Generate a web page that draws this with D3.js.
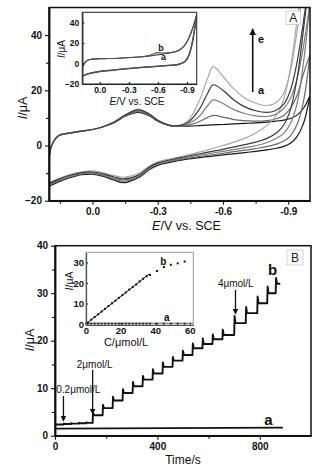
<!DOCTYPE html>
<html>
<head>
<meta charset="utf-8">
<script src="https://cdn.jsdelivr.net/npm/d3@7"></script>
<style>
body { margin: 0; background: #fff; }
svg { display: block; font-family: "Liberation Sans", Arial, sans-serif; }
.tick text { font-weight: bold; fill: #111; }
.tick line { stroke: #111; }
.domain { stroke: #111; }
</style>
</head>
<body>
<svg id="chart" width="328" height="471"></svg>
<script>
// ---- panel A: cyclic voltammograms a..e ----
const fwdE = [0.2, 0.19, 0.17, 0.15, 0.1, 0.05, 0.0, -0.05, -0.1, -0.15, -0.21, -0.26, -0.3, -0.35, -0.4, -0.44, -0.49, -0.53, -0.555, -0.6, -0.65, -0.7, -0.75, -0.8, -0.84, -0.88, -0.91, -0.94, -0.97, -1.0];
const fwdA = [-5, -0.5, 2.5, 3.8, 4.6, 5.2, 5.8, 6.8, 8.3, 10.6, 12.0, 10.8, 8.8, 7.3, 7.0, 7.0, 7.2, 7.4, 7.5, 7.6, 7.8, 8.0, 8.2, 8.5, 8.8, 9.2, 9.8, 11, 13.5, 18];
const fwdB = [-5, -0.5, 2.5, 3.8, 4.6, 5.2, 5.8, 6.8, 8.4, 10.8, 12.3, 11.0, 8.9, 7.3, 7.0, 7.3, 8.6, 10.2, 10.9, 10.3, 9.4, 9.0, 8.8, 9.0, 9.6, 11, 13.5, 18, 26, 33];
const fwdC = [-5, -0.5, 2.5, 3.8, 4.6, 5.2, 5.8, 6.8, 8.4, 10.9, 12.6, 11.2, 9.0, 7.4, 7.1, 7.8, 10.5, 14.5, 16.5, 15.2, 13.0, 11.6, 10.7, 10.5, 11.2, 13.5, 17, 24, 36, 52];
const fwdD = [-5, -0.5, 2.5, 3.8, 4.6, 5.2, 5.8, 6.9, 8.5, 11.0, 12.9, 11.4, 9.1, 7.4, 7.2, 8.4, 13.0, 19.0, 22.0, 20.0, 16.5, 14.0, 12.6, 12.0, 12.6, 15, 20, 30, 45, 62];
const fwdEe = [-5, -0.5, 2.5, 3.8, 4.6, 5.2, 5.8, 6.9, 8.6, 11.1, 13.2, 11.6, 9.2, 7.5, 7.3, 9.0, 16.0, 24.5, 28.6, 25.0, 20.5, 17.2, 15.3, 14.5, 15.3, 19, 27, 41, 57, 70];

const revE = [-1.0, -0.97, -0.94, -0.91, -0.88, -0.85, -0.8, -0.75, -0.7, -0.6, -0.5, -0.4, -0.3, -0.26, -0.22, -0.17, -0.14, -0.1, -0.05, 0.0, 0.05, 0.1, 0.15, 0.2];
const revA = [18, 8, 3.2, 0.8, -0.3, -0.9, -1.6, -2.1, -2.6, -3.4, -4.3, -5.4, -7.2, -8.8, -11.2, -13.0, -13.5, -12.6, -11.2, -10.4, -10.6, -11.6, -13.0, -14.8];
const revB = [33, 16, 7.5, 3.5, 1.6, 0.6, -0.4, -1.1, -1.7, -2.8, -3.9, -5.1, -6.9, -8.5, -10.9, -12.6, -13.0, -12.2, -10.9, -10.1, -10.3, -11.3, -12.7, -14.4];
const revC = [52, 30, 15, 8, 4.5, 2.8, 1.0, -0.1, -0.8, -2.1, -3.4, -4.8, -6.6, -8.2, -10.6, -12.2, -12.5, -11.8, -10.6, -9.9, -10.1, -11.0, -12.4, -14.1];
const revD = [62, 42, 24, 13, 7.5, 4.8, 2.5, 1.2, 0.3, -1.4, -2.9, -4.5, -6.3, -7.9, -10.3, -11.8, -12.1, -11.4, -10.3, -9.6, -9.8, -10.7, -12.1, -13.8];
const revEe = [70, 60, 45, 28, 17, 11.5, 7.2, 4.5, 2.6, 0.0, -2.2, -4.1, -5.9, -7.5, -9.8, -11.2, -11.5, -10.9, -9.9, -9.2, -9.5, -10.4, -11.8, -13.5];

const cvNames = ['a', 'b', 'c', 'd', 'e'];
const cvColors = ['#161616', '#6a6a6a', '#7e7e7e', '#3a3a3a', '#a8a8a8'];

// inset of panel A
const inFwdE = [0.18, 0.16, 0.13, 0.1, 0.0, -0.2, -0.4, -0.5, -0.56, -0.6, -0.65, -0.7, -0.76, -0.82, -0.87, -0.91, -0.95, -1.0];
const inFwdA = [-4, 0, 3, 4, 4.6, 5.2, 6.3, 7.2, 7.9, 8.6, 9.2, 10, 11, 13, 17, 23, 32, 47];
const inFwdB = [-4, 0, 3, 4, 4.6, 5.2, 6.3, 7.6, 9.6, 10.6, 10.3, 10.4, 11.2, 13.2, 17.2, 23.2, 32.5, 48];
const inRevE = [-1.0, -0.97, -0.94, -0.91, -0.88, -0.85, -0.8, -0.7, -0.6, -0.45, -0.3, -0.15, 0.0, 0.1, 0.18];
const inRevA = [47, 28, 14, 6, 2, 0.3, -1.2, -2.0, -2.7, -3.8, -5.0, -6.4, -7.8, -9.6, -12.4];
const inRevB = [48, 29, 14.5, 6.3, 2.2, 0.5, -1.0, -1.8, -2.5, -3.6, -4.8, -6.2, -7.6, -9.4, -12.2];

const cvTicks = [0, -0.3, -0.6, -0.9];
const cvMinor = [0.15, -0.15, -0.45, -0.75];

// ---- panel B: amperometric response ----
const stepT = [33, 62, 92, 121, 147, 186, 225, 264, 303, 342, 381, 420, 459, 498, 537, 576, 615, 654, 700, 745, 790, 829, 862];
const stepI = [2.45, 2.55, 2.62, 2.7, 4.3, 5.8, 7.4, 9.0, 10.4, 11.8, 13.1, 14.5, 15.8, 17.0, 18.4, 19.3, 20.3, 21.2, 23.7, 25.8, 27.9, 30.0, 32.0];
const stepSpike = [0.1, 0.1, 0.1, 0.1, 0.6, 0.7, 0.8, 0.8, 0.9, 0.8, 0.9, 0.9, 0.8, 0.9, 1.0, 1.2, 1.0, 1.1, 1.5, 1.3, 1.4, 1.4, 1.2];
const traceBStart = [0, 2.35];
const traceBEnd = 880;
const traceA = [[0, 1.5], [890, 1.7]];

// inset of panel B: calibration
const calBC = [0.2, 0.4, 0.6, 0.8, 1.0, 3, 5, 7, 9, 11, 13, 15, 17, 19, 21, 23, 25, 27, 29, 31, 33, 35, 37, 41, 45, 49, 53, 57];
const calBI = [0.15, 0.3, 0.4, 0.55, 0.7, 2.1, 3.4, 4.7, 6.1, 7.4, 8.8, 10.1, 11.4, 12.8, 14.1, 15.4, 16.8, 18.1, 19.3, 20.8, 22.1, 23.3, 23.9, 25.9, 27.8, 28.9, 29.6, 30.5];
const calAC = [0.2, 0.6, 1.0, 3, 5, 7, 9, 11, 13, 15, 17, 19, 21, 23, 25, 27, 29, 31, 33, 35, 37, 41, 45, 49, 53, 57];
const calAI = [0.1, 0.1, 0.1, 0.1, 0.1, 0.1, 0.1, 0.1, 0.1, 0.1, 0.1, 0.1, 0.1, 0.1, 0.1, 0.1, 0.1, 0.1, 0.1, 0.1, 0.1, 0.1, 0.1, 0.1, 0.1, 0.1];
const fitC = [0, 36.5];
const fitI = [0, 24.4];
const calALineC = [0, 62];
const calALineI = [0.35, 0.35];

const svg = d3.select('#chart');
const defs = svg.append('defs');
defs.append('marker')
  .attr('id', 'head')
  .attr('viewBox', '0 0 10 10')
  .attr('refX', 9).attr('refY', 5)
  .attr('markerWidth', 4.5).attr('markerHeight', 4.5)
  .attr('orient', 'auto-start-reverse')
  .append('path').attr('d', 'M0,0L10,5L0,10Z').attr('fill', '#111');

function clip(id, x0, y0, w, h) {
  defs.append('clipPath').attr('id', id)
    .append('rect').attr('x', x0).attr('y', y0).attr('width', w).attr('height', h);
  return 'url(#' + id + ')';
}

function styleAxis(g, domainW, fontSize) {
  g.select('.domain').attr('stroke-width', domainW);
  g.selectAll('.tick line').attr('stroke-width', 1.1);
  g.selectAll('.tick text').attr('font-size', fontSize);
}

function frame(x, y, color, w) {
  svg.append('rect')
    .attr('x', x.range()[0]).attr('y', y.range()[1])
    .attr('width', x.range()[1] - x.range()[0])
    .attr('height', y.range()[0] - y.range()[1])
    .attr('fill', 'none').attr('stroke', color).attr('stroke-width', w);
}

function titleText(x, y, parts, size, rotate) {
  const t = svg.append('text')
    .attr('text-anchor', 'middle')
    .attr('font-size', size)
    .attr('fill', '#111')
    .attr('transform', 'translate(' + x + ',' + y + ')' + (rotate ? ' rotate(-90)' : ''))
    .attr('dy', '0.35em');
  parts.forEach((p) => {
    t.append('tspan').attr('font-style', p[1] ? 'italic' : 'normal').text(p[0]);
  });
  return t;
}

const fmt1 = (d) => d.toFixed(1);

// ================= Panel A =================
const xA = d3.scaleLinear().domain([0.2, -1.0]).range([49, 310]);
const yA = d3.scaleLinear().domain([-20, 50]).range([200.7, 7.5]);
const clipA = clip('clipA', 49, 7.5, 261, 193.2);

const cvLine = d3.line().x((d) => xA(d[0])).y((d) => yA(d[1])).curve(d3.curveCatmullRom.alpha(0.5));
const fwdSets = [fwdA, fwdB, fwdC, fwdD, fwdEe];
const revSets = [revA, revB, revC, revD, revEe];
const gCv = svg.append('g').attr('clip-path', clipA);
[0, 1, 2, 4, 3].forEach((k) => {
  gCv.append('path')
    .datum(fwdE.map((e, i) => [e, fwdSets[k][i]]))
    .attr('class', 'cv cv-' + cvNames[k])
    .attr('fill', 'none').attr('stroke', cvColors[k]).attr('stroke-width', 1.2)
    .attr('d', cvLine);
  gCv.append('path')
    .datum(revE.map((e, i) => [e, revSets[k][i]]))
    .attr('class', 'cv cv-' + cvNames[k])
    .attr('fill', 'none').attr('stroke', cvColors[k]).attr('stroke-width', 1.2)
    .attr('d', cvLine);
});

let ax = svg.append('g').attr('transform', 'translate(0,200.7)')
  .call(d3.axisBottom(xA).tickValues(cvTicks).tickFormat(fmt1).tickSize(4).tickPadding(3).tickSizeOuter(0));
styleAxis(ax, 1.5, 10);
ax = svg.append('g').attr('transform', 'translate(0,200.7)')
  .call(d3.axisBottom(xA).tickValues(cvMinor).tickFormat('').tickSize(3).tickSizeOuter(0));
styleAxis(ax, 1.5, 10);
ax = svg.append('g').attr('transform', 'translate(49,0)')
  .call(d3.axisLeft(yA).tickValues([-20, 0, 20, 40]).tickSize(4).tickPadding(3).tickSizeOuter(0));
styleAxis(ax, 1.5, 10);
ax = svg.append('g').attr('transform', 'translate(49,0)')
  .call(d3.axisLeft(yA).tickValues([-10, 10, 30]).tickFormat('').tickSize(3).tickSizeOuter(0));
styleAxis(ax, 1.5, 10);
frame(xA, yA, '#111', 1.5);

titleText(22.5, 108, [['I', true], ['/μA', false]], 12.5, true);
titleText(186.5, 226, [['E', true], ['/V vs. SCE', false]], 12.5, false);

// panel label A
svg.append('rect').attr('x', 286).attr('y', 11).attr('width', 14.5).attr('height', 13.5)
  .attr('fill', '#fff').attr('stroke', '#c8c8c8').attr('stroke-width', 0.8);
svg.append('text').attr('x', 293.3).attr('y', 17.8).attr('dy', '0.35em')
  .attr('text-anchor', 'middle').attr('font-size', 12).attr('fill', '#222').text('A');

// arrow a -> e
svg.append('line').attr('x1', 252.7).attr('y1', 92).attr('x2', 252.7).attr('y2', 29)
  .attr('stroke', '#111').attr('stroke-width', 1.6).attr('marker-end', 'url(#head)');
svg.append('text').attr('x', 258).attr('y', 39).attr('dy', '0.35em')
  .attr('font-size', 11).attr('font-weight', 'bold').attr('fill', '#111').text('e');
svg.append('text').attr('x', 258).attr('y', 90.5).attr('dy', '0.35em')
  .attr('font-size', 11).attr('font-weight', 'bold').attr('fill', '#111').text('a');

// ---- inset A ----
const xIA = d3.scaleLinear().domain([0.18, -1.0]).range([82.3, 196.7]);
const yIA = d3.scaleLinear().domain([-20, 50]).range([84, 12.3]);
svg.append('rect').attr('x', 82.3).attr('y', 12.3).attr('width', 114.4).attr('height', 71.7).attr('fill', '#fff');
const clipIA = clip('clipIA', 82.3, 12.3, 114.4, 71.7);
const inLine = d3.line().x((d) => xIA(d[0])).y((d) => yIA(d[1])).curve(d3.curveCatmullRom.alpha(0.5));
const gIA = svg.append('g').attr('clip-path', clipIA);
[[inFwdA, inRevA, '#333'], [inFwdB, inRevB, '#555']].forEach((s) => {
  gIA.append('path').datum(inFwdE.map((e, i) => [e, s[0][i]]))
    .attr('fill', 'none').attr('stroke', s[2]).attr('stroke-width', 1.1).attr('d', inLine);
  gIA.append('path').datum(inRevE.map((e, i) => [e, s[1][i]]))
    .attr('fill', 'none').attr('stroke', s[2]).attr('stroke-width', 1.3).attr('d', inLine);
});
ax = svg.append('g').attr('transform', 'translate(0,84)')
  .call(d3.axisBottom(xIA).tickValues(cvTicks).tickFormat(fmt1).tickSize(-2).tickPadding(3).tickSizeOuter(0));
styleAxis(ax, 1.2, 8.5);
ax = svg.append('g').attr('transform', 'translate(82.3,0)')
  .call(d3.axisLeft(yIA).tickValues([-20, 0, 20, 40]).tickSize(-2).tickPadding(3).tickSizeOuter(0));
styleAxis(ax, 1.2, 8.5);
frame(xIA, yIA, '#333', 1.1);
titleText(61.5, 49, [['I', true], ['/μA', false]], 10, true);
titleText(137, 101, [['E', true], ['/V vs. SCE', false]], 10, false);
svg.append('text').attr('x', 161).attr('y', 47.7).attr('dy', '0.35em').attr('text-anchor', 'middle')
  .attr('font-size', 9).attr('font-weight', 'bold').attr('fill', '#111').text('b');
svg.append('text').attr('x', 163.5).attr('y', 56.5).attr('dy', '0.35em').attr('text-anchor', 'middle')
  .attr('font-size', 9).attr('font-weight', 'bold').attr('fill', '#111').text('a');

// ================= Panel B =================
const xB = d3.scaleLinear().domain([0, 1000]).range([55, 311]);
const yB = d3.scaleLinear().domain([0, 40]).range([435.7, 245.7]);

// build step trace b from the step table
const traceB = [traceBStart];
let prev = traceBStart[1];
stepT.forEach((t, i) => {
  traceB.push([t, prev]);
  traceB.push([t + 1.5, stepI[i] + stepSpike[i]]);
  traceB.push([t + 5, stepI[i]]);
  prev = stepI[i];
  const tNext = i < stepT.length - 1 ? stepT[i + 1] : traceBEnd;
  traceB.push([tNext, stepI[i]]);
});
const bLine = d3.line().x((d) => xB(d[0])).y((d) => yB(d[1]));
svg.append('path').datum(traceB).attr('fill', 'none').attr('stroke', '#111')
  .attr('stroke-width', 1.9).attr('stroke-linejoin', 'round').attr('d', bLine);
svg.append('path').datum(traceA).attr('fill', 'none').attr('stroke', '#111')
  .attr('stroke-width', 1.6).attr('d', bLine);

ax = svg.append('g').attr('transform', 'translate(0,435.7)')
  .call(d3.axisBottom(xB).tickValues([0, 400, 800]).tickSize(4).tickPadding(3).tickSizeOuter(0));
styleAxis(ax, 1.5, 10);
ax = svg.append('g').attr('transform', 'translate(0,435.7)')
  .call(d3.axisBottom(xB).tickValues([200, 600]).tickFormat('').tickSize(3).tickSizeOuter(0));
styleAxis(ax, 1.5, 10);
ax = svg.append('g').attr('transform', 'translate(55,0)')
  .call(d3.axisLeft(yB).tickValues([0, 10, 20, 30, 40]).tickSize(4).tickPadding(3).tickSizeOuter(0));
styleAxis(ax, 1.5, 10);
ax = svg.append('g').attr('transform', 'translate(55,0)')
  .call(d3.axisLeft(yB).tickValues([5, 15, 25, 35]).tickFormat('').tickSize(3).tickSizeOuter(0));
styleAxis(ax, 1.5, 10);
frame(xB, yB, '#111', 1.5);

titleText(30, 340, [['I', true], ['/μA', false]], 12.5, true);
titleText(183, 460, [['Time/s', false]], 12, false);

svg.append('rect').attr('x', 287).attr('y', 250).attr('width', 16).attr('height', 15)
  .attr('fill', '#fff').attr('stroke', '#c8c8c8').attr('stroke-width', 0.8);
svg.append('text').attr('x', 295).attr('y', 257.5).attr('dy', '0.35em')
  .attr('text-anchor', 'middle').attr('font-size', 12).attr('fill', '#222').text('B');

svg.append('text').attr('x', 272.7).attr('y', 270).attr('dy', '0.35em').attr('text-anchor', 'middle')
  .attr('font-size', 15).attr('font-weight', 'bold').attr('fill', '#111').text('b');
svg.append('text').attr('x', 268.3).attr('y', 420).attr('dy', '0.35em').attr('text-anchor', 'middle')
  .attr('font-size', 15).attr('font-weight', 'bold').attr('fill', '#111').text('a');

// addition arrows
const additions = [
  { t: 33, label: '0.2μmol/L', lx: 78.3, ly: 389.3, y0: 396, y1: 421 },
  { t: 147, label: '2μmol/L', lx: 94.7, ly: 364, y0: 370, y1: 414 },
  { t: 705, label: '4μmol/L', lx: 235.8, ly: 283.3, y0: 290, y1: 314 },
];
additions.forEach((a) => {
  svg.append('text').attr('x', a.lx).attr('y', a.ly).attr('dy', '0.35em').attr('text-anchor', 'middle')
    .attr('font-size', 10).attr('fill', '#111').text(a.label);
  svg.append('line').attr('x1', xB(a.t)).attr('x2', xB(a.t)).attr('y1', a.y0).attr('y2', a.y1)
    .attr('stroke', '#111').attr('stroke-width', 1.3).attr('marker-end', 'url(#head)');
});

// ---- inset B ----
const xIB = d3.scaleLinear().domain([0, 62]).range([86, 193.3]);
const yIB = d3.scaleLinear().domain([-0.5, 35]).range([325, 252.3]);
svg.append('rect').attr('x', 86).attr('y', 252.3).attr('width', 107.3).attr('height', 72.7).attr('fill', '#fff');
const calLine = d3.line().x((d) => xIB(d[0])).y((d) => yIB(d[1]));
svg.append('path').datum(calALineC.map((c, i) => [c, calALineI[i]]))
  .attr('fill', 'none').attr('stroke', '#9a9a9a').attr('stroke-width', 1.3).attr('d', calLine);
svg.append('path').datum(fitC.map((c, i) => [c, fitI[i]]))
  .attr('fill', 'none').attr('stroke', '#111').attr('stroke-width', 1).attr('d', calLine);
svg.append('g').selectAll('rect')
  .data(calAC.map((c, i) => [c, calAI[i]]))
  .enter().append('rect')
  .attr('x', (d) => xIB(d[0]) - 1).attr('y', (d) => yIB(d[1]) - 1)
  .attr('width', 2).attr('height', 2).attr('fill', '#222');
svg.append('g').selectAll('rect')
  .data(calBC.map((c, i) => [c, calBI[i]]))
  .enter().append('rect')
  .attr('x', (d) => xIB(d[0]) - 1).attr('y', (d) => yIB(d[1]) - 1)
  .attr('width', 2).attr('height', 2).attr('fill', '#111');

ax = svg.append('g').attr('transform', 'translate(0,325)')
  .call(d3.axisBottom(xIB).tickValues([0, 20, 40, 60]).tickSize(-2).tickPadding(2).tickSizeOuter(0));
styleAxis(ax, 1.2, 9.5);
ax = svg.append('g').attr('transform', 'translate(86,0)')
  .call(d3.axisLeft(yIB).tickValues([0, 10, 20, 30]).tickSize(-2).tickPadding(2).tickSizeOuter(0));
styleAxis(ax, 1.2, 9.5);
svg.append('rect').attr('x', 86).attr('y', 252.3).attr('width', 107.3).attr('height', 72.7)
  .attr('fill', 'none').attr('stroke', '#9a9a9a').attr('stroke-width', 1);
ax.select('.domain').attr('stroke', '#666');

titleText(69.5, 281, [['I', true], ['/μA', false]], 10.5, true);
titleText(126, 342.5, [['C/μmol/L', false]], 11, false);
svg.append('text').attr('x', 163.3).attr('y', 261).attr('dy', '0.35em').attr('text-anchor', 'middle')
  .attr('font-size', 10).attr('font-weight', 'bold').attr('fill', '#111').text('b');
svg.append('text').attr('x', 166.7).attr('y', 317.5).attr('dy', '0.35em').attr('text-anchor', 'middle')
  .attr('font-size', 10).attr('font-weight', 'bold').attr('fill', '#111').text('a');
</script>
</body>
</html>
